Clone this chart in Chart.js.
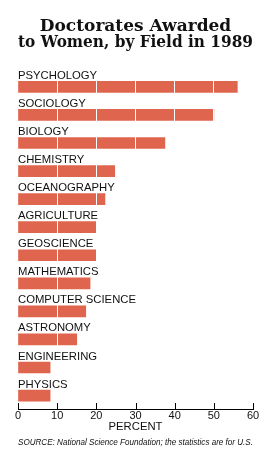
<!DOCTYPE html>
<html>
<head>
<meta charset="utf-8">
<script src="https://cdn.jsdelivr.net/npm/chart.js@4"></script>
<style>
  html, body { margin: 0; padding: 0; background: #fff; }
  #wrap { width: 279px; height: 450px; }
</style>
</head>
<body>
<div id="wrap"><canvas id="doctoratesChart"></canvas></div>
<script>
const fields = ['PSYCHOLOGY', 'SOCIOLOGY', 'BIOLOGY', 'CHEMISTRY', 'OCEANOGRAPHY', 'AGRICULTURE',
  'GEOSCIENCE', 'MATHEMATICS', 'COMPUTER SCIENCE', 'ASTRONOMY', 'ENGINEERING', 'PHYSICS']
const percents = [56, 50, 37.5, 24.7, 22.2, 20, 20, 18.4, 17.3, 15, 8.2, 8.2]
const percentTicks = [0, 10, 20, 30, 40, 50, 60]

const sans = "'Liberation Sans', Arial, sans-serif"

// field names sit just above each bar (drawn last so the white grid doesn't cut them)
const fieldLabels = {
  id: 'fieldLabels',
  afterDraw(chart) {
    const ctx = chart.ctx
    const x = chart.scales.x
    const y = chart.scales.y
    ctx.save()
    ctx.fillStyle = '#111'
    ctx.font = '11.3px ' + sans
    ctx.textBaseline = 'alphabetic'
    ctx.textAlign = 'left'
    fields.forEach((name, i) => {
      ctx.fillText(name, x.left, y.getPixelForValue(i) - 8)
    })
    ctx.restore()
  }
}

// tick marks point up from the axis line
const upTicks = {
  id: 'upTicks',
  afterDraw(chart) {
    const ctx = chart.ctx
    const x = chart.scales.x
    const bottom = chart.chartArea.bottom
    ctx.save()
    ctx.strokeStyle = '#000'
    ctx.lineWidth = 1
    ctx.beginPath()
    percentTicks.forEach(t => {
      const px = Math.round(x.getPixelForValue(t)) + 0.5
      ctx.moveTo(px, bottom)
      ctx.lineTo(px, bottom - 6)
    })
    ctx.stroke()
    ctx.restore()
  }
}

new Chart(document.getElementById('doctoratesChart'), {
  type: 'bar',
  data: {
    datasets: [{
      data: percents.map((v, i) => ({ x: v, y: i })),
      backgroundColor: '#e0654e',
      borderWidth: 0,
      barThickness: 11
    }]
  },
  options: {
    indexAxis: 'y',
    responsive: true,
    maintainAspectRatio: false,
    animation: false,
    layout: { padding: { left: 18, right: 26, top: 0, bottom: 2.5 } },
    plugins: {
      legend: { display: false },
      tooltip: { enabled: false },
      title: {
        display: true,
        text: ['Doctorates Awarded', 'to Women, by Field in 1989'],
        color: '#111',
        font: { family: "'DejaVu Serif', serif", size: 17, weight: 'bold', lineHeight: 0.96 },
        padding: { top: 18.5, bottom: 8 }
      },
      subtitle: {
        display: true,
        position: 'bottom',
        align: 'start',
        text: 'SOURCE: National Science Foundation; the statistics are for U.S.',
        color: '#111',
        font: { family: sans, size: 8.5, style: 'italic' },
        padding: { top: 4, bottom: 0 }
      }
    },
    scales: {
      x: {
        type: 'linear',
        min: 0,
        max: 60,
        afterBuildTicks: axis => { axis.ticks = percentTicks.map(v => ({ value: v })) },
        grid: {
          z: 1,
          color: ctx => ctx.tick && ctx.tick.value === 0 ? 'rgba(0,0,0,0)' : '#fff',
          lineWidth: 1,
          drawTicks: false
        },
        border: { display: true, color: '#000', width: 1, z: 1 },
        ticks: { color: '#111', font: { family: sans, size: 11 }, padding: 0, maxRotation: 0 },
        title: {
          display: true,
          text: 'PERCENT',
          color: '#111',
          font: { family: sans, size: 11.3 },
          padding: { top: -2.5, bottom: 0 }
        }
      },
      y: {
        type: 'linear',
        reverse: true,
        offset: false,
        min: -0.989,
        max: 11.48,
        display: false
      }
    }
  },
  plugins: [fieldLabels, upTicks]
})
</script>
</body>
</html>
